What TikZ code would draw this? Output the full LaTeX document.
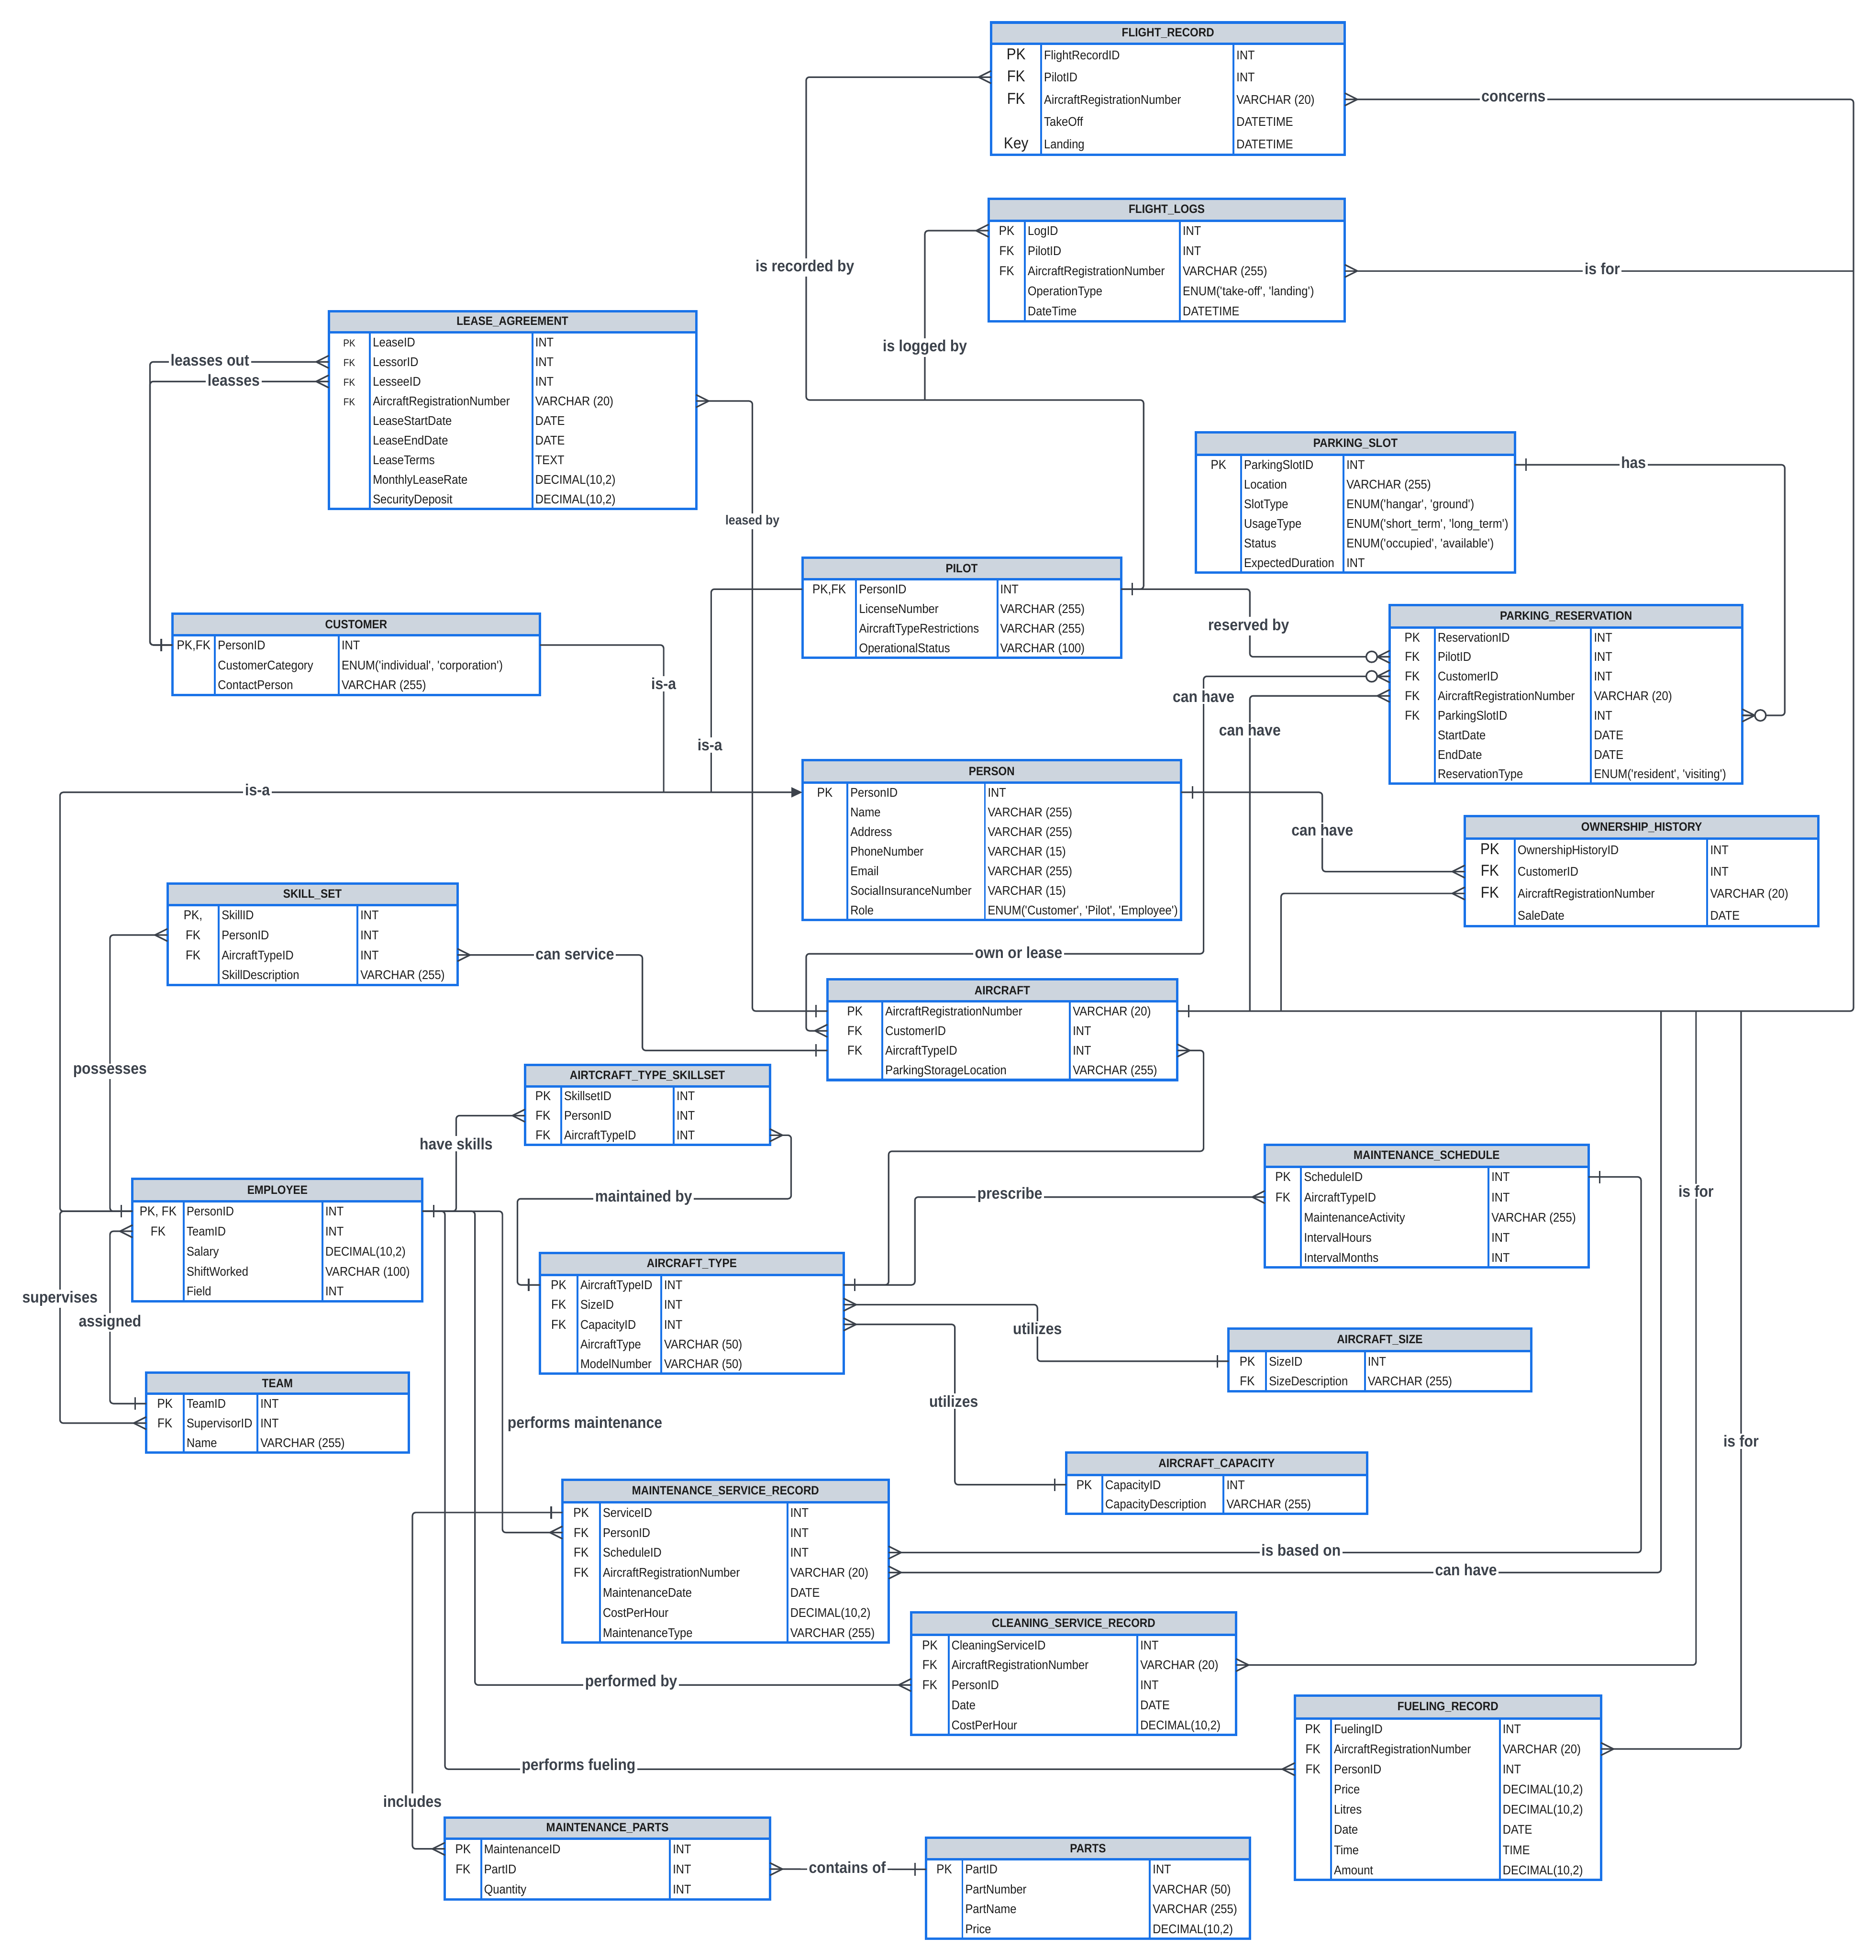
\documentclass[tikz,border=0pt]{standalone}
\usepackage{fontspec}
\setmainfont{Liberation Sans}[FakeStretch=0.9]
\usetikzlibrary{arrows.meta,calc}
\definecolor{bblue}{HTML}{1A73E8}
\definecolor{hgray}{HTML}{CDD5DE}
\definecolor{lcol}{HTML}{3C424B}
\definecolor{tcol}{HTML}{1C1C1C}
\newcommand\sq{\textquotesingle}
\tikzset{
  border/.style={draw=bblue, line width=1.1pt},
  colline/.style={draw=bblue, line width=0.85pt},
  ttl/.style={inner sep=0pt, font=\bfseries\fontsize{5.5}{6}\selectfont, text=tcol},
  rowbox/.style={inner sep=0pt, outer sep=0pt, draw=none},
  keytxt/.style={inner sep=0pt, text=tcol, text height=4.1pt, text depth=0pt},
  rowtxt/.style={anchor=west, inner sep=0pt, text=tcol, font=\fontsize{5.75}{6.5}\selectfont, text height=4.1pt, text depth=0pt},
  conn/.style={draw=lcol, line width=0.7pt, rounded corners=1.5pt},
  mk/.style={draw=lcol, line width=0.7pt},
  lbl/.style={fill=white, inner sep=0.8pt, text=lcol, font=\bfseries\fontsize{7.3}{8}\selectfont},
  crowW/.pic={\draw[mk] (-10,0) -- (0,5) (-10,0) -- (0,-5);},
  crowE/.pic={\draw[mk] (10,0) -- (0,5) (10,0) -- (0,-5);},
  tickW/.pic={\draw[mk] (-9,-5) -- (-9,5);},
  tickE/.pic={\draw[mk] (9,-5) -- (9,5);},
  zcrowW/.pic={\draw[mk] (-10,0) -- (0,5) (-10,0) -- (0,-5) (-10,0) -- (0,0); \draw[mk, fill=white] (-14.5,0) circle[radius=2.5pt];},
  zcrowE/.pic={\draw[mk] (10,0) -- (0,5) (10,0) -- (0,-5) (10,0) -- (0,0); \draw[mk, fill=white] (14.5,0) circle[radius=2.5pt];},
}
% id, title, x0, x1, c1, c2, ytop, yhead, ybot
\newcommand\ertable[9]{%
  \gdef\tid{#1}\gdef\tx{#3}\gdef\txr{#4}\gdef\tca{#5}\gdef\tcb{#6}\gdef\tyh{#8}\gdef\tyb{#9}%
  \fill[white] (#3,#7) rectangle (#4,#9);
  \fill[hgray] (#3,#7) rectangle (#4,#8);
  \node[ttl] (#1) at ({(#3+#4)/2},{(#7+#8)/2}) {#2};
  \draw[colline] (#5,#8) -- (#5,#9) (#6,#8) -- (#6,#9);
  \draw[border] (#3,#7) rectangle (#4,#9) (#3,#8) -- (#4,#8);
}
% n rows, key font, rows
\newcommand\errows[3]{%
  \foreach \ka/\na/\ty [count=\ri] in {#3}{%
    \pgfmathsetmacro\yc{\tyh+(\ri-0.5)*(\tyb-\tyh)/#1}%
    \pgfmathsetmacro\xm{(\tx+\txr)/2}%
    \pgfmathsetmacro\xk{(\tx+\tca)/2}%
    \pgfmathsetmacro\rw{(\txr-\tx)*0.02}%
    \pgfmathsetmacro\rh{(\tyb-\tyh)/#1*0.02}%
    \node[rowbox, minimum width=\rw cm, minimum height=\rh cm] (\tid-\ri) at (\xm,\yc) {};
    \node[keytxt, font=#2] (\tid-\ri-k) at (\xk,\yc) {\ka};
    \node[rowtxt] (\tid-\ri-n) at (\tca+2,\yc) {\na};
    \node[rowtxt] (\tid-\ri-t) at (\tcb+2,\yc) {\ty};
  }%
}
\newcommand\kn{\fontsize{5.9}{6.5}\selectfont}
\newcommand\kb{\fontsize{7.2}{8}\selectfont}
\newcommand\ks{\fontsize{4.6}{5}\selectfont}
\begin{document}
\begin{tikzpicture}[x=0.02cm, y=-0.02cm]
\fill[white] (0,0) rectangle (1501,1568);
\useasboundingbox (0,0) rectangle (1501,1568);

% ---------------- tables ----------------
\ertable{fr}{FLIGHT\_RECORD}{793}{1076}{833}{987}{18}{35}{124}
\errows{5}{\kb}{PK/FlightRecordID/INT, FK/PilotID/INT, FK/AircraftRegistrationNumber/VARCHAR (20), {}/TakeOff/DATETIME, Key/Landing/DATETIME}

\ertable{fl}{FLIGHT\_LOGS}{791}{1076}{820}{944}{159}{176.5}{257}
\errows{5}{\kn}{PK/LogID/INT, FK/PilotID/INT, FK/AircraftRegistrationNumber/VARCHAR (255), {}/OperationType/{ENUM(\sq take-off\sq, \sq landing\sq)}, {}/DateTime/DATETIME}

\ertable{la}{LEASE\_AGREEMENT}{263}{557}{296}{426}{249}{266}{407}
\errows{9}{\ks}{PK/LeaseID/INT, FK/LessorID/INT, FK/LesseeID/INT, FK/AircraftRegistrationNumber/VARCHAR (20), {}/LeaseStartDate/DATE, {}/LeaseEndDate/DATE, {}/LeaseTerms/TEXT, {}/MonthlyLeaseRate/{DECIMAL(10,2)}, {}/SecurityDeposit/{DECIMAL(10,2)}}

\ertable{cu}{CUSTOMER}{138}{432}{172}{271}{491}{508}{556}
\errows{3}{\kn}{{PK,FK}/PersonID/INT, {}/CustomerCategory/{ENUM(\sq individual\sq, \sq corporation\sq)}, {}/ContactPerson/VARCHAR (255)}

\ertable{ps}{PARKING\_SLOT}{957}{1212}{993}{1075}{346}{364}{458}
\errows{6}{\kn}{PK/ParkingSlotID/INT, {}/Location/VARCHAR (255), {}/SlotType/{ENUM(\sq hangar\sq, \sq ground\sq)}, {}/UsageType/{ENUM(\sq short\_term\sq, \sq long\_term\sq)}, {}/Status/{ENUM(\sq occupied\sq, \sq available\sq)}, {}/ExpectedDuration/INT}

\ertable{pi}{PILOT}{642}{897}{685}{798}{446}{463.5}{526}
\errows{4}{\kn}{{PK,FK}/PersonID/INT, {}/LicenseNumber/VARCHAR (255), {}/AircraftTypeRestrictions/VARCHAR (255), {}/OperationalStatus/VARCHAR (100)}

\ertable{pr}{PARKING\_RESERVATION}{1112}{1394}{1148}{1273}{484}{502}{627}
\errows{8}{\kn}{PK/ReservationID/INT, FK/PilotID/INT, FK/CustomerID/INT, FK/AircraftRegistrationNumber/VARCHAR (20), FK/ParkingSlotID/INT, {}/StartDate/DATE, {}/EndDate/DATE, {}/ReservationType/{ENUM(\sq resident\sq, \sq visiting\sq)}}

\ertable{pe}{PERSON}{642}{945}{678}{788}{608}{626}{736}
\errows{7}{\kn}{PK/PersonID/INT, {}/Name/VARCHAR (255), {}/Address/VARCHAR (255), {}/PhoneNumber/VARCHAR (15), {}/Email/VARCHAR (255), {}/SocialInsuranceNumber/VARCHAR (15), {}/Role/{ENUM(\sq Customer\sq, \sq Pilot\sq, \sq Employee\sq)}}

\ertable{oh}{OWNERSHIP\_HISTORY}{1172}{1455}{1212}{1366}{653}{671}{741}
\errows{4}{\kb}{PK/OwnershipHistoryID/INT, FK/CustomerID/INT, FK/AircraftRegistrationNumber/VARCHAR (20), {}/SaleDate/DATE}

\ertable{ac}{AIRCRAFT}{662}{942}{706}{856}{783.5}{801}{864}
\errows{4}{\kn}{PK/AircraftRegistrationNumber/VARCHAR (20), FK/CustomerID/INT, FK/AircraftTypeID/INT, {}/ParkingStorageLocation/VARCHAR (255)}

\ertable{ss}{SKILL\_SET}{134}{366}{175}{286}{707}{724}{788}
\errows{4}{\kn}{{PK,}/SkillID/INT, FK/PersonID/INT, FK/AircraftTypeID/INT, {}/SkillDescription/VARCHAR (255)}

\ertable{ats}{AIRTCRAFT\_TYPE\_SKILLSET}{420}{616}{449}{539}{852}{869}{916}
\errows{3}{\kn}{PK/SkillsetID/INT, FK/PersonID/INT, FK/AircraftTypeID/INT}

\ertable{em}{EMPLOYEE}{106}{338}{147}{258}{943}{961}{1041}
\errows{5}{\kn}{{PK, FK}/PersonID/INT, FK/TeamID/INT, {}/Salary/{DECIMAL(10,2)}, {}/ShiftWorked/VARCHAR (100), {}/Field/INT}

\ertable{tm}{TEAM}{117}{327}{147}{206}{1098}{1115}{1162}
\errows{3}{\kn}{PK/TeamID/INT, FK/SupervisorID/INT, {}/Name/VARCHAR (255)}

\ertable{at}{AIRCRAFT\_TYPE}{432}{675}{462}{529}{1002.5}{1020}{1099}
\errows{5}{\kn}{PK/AircraftTypeID/INT, FK/SizeID/INT, FK/CapacityID/INT, {}/AircraftType/VARCHAR (50), {}/ModelNumber/VARCHAR (50)}

\ertable{ms}{MAINTENANCE\_SCHEDULE}{1012}{1271}{1041}{1191}{916}{933.5}{1014}
\errows{5}{\kn}{PK/ScheduleID/INT, FK/AircraftTypeID/INT, {}/MaintenanceActivity/VARCHAR (255), {}/IntervalHours/INT, {}/IntervalMonths/INT}

\ertable{asz}{AIRCRAFT\_SIZE}{983}{1225}{1013}{1092}{1063}{1081}{1113}
\errows{2}{\kn}{PK/SizeID/INT, FK/SizeDescription/VARCHAR (255)}

\ertable{acp}{AIRCRAFT\_CAPACITY}{853}{1094}{882}{979}{1162}{1180}{1211}
\errows{2}{\kn}{PK/CapacityID/INT, {}/CapacityDescription/VARCHAR (255)}

\ertable{msr}{MAINTENANCE\_SERVICE\_RECORD}{450}{711}{480}{630}{1184}{1202}{1314}
\errows{7}{\kn}{PK/ServiceID/INT, FK/PersonID/INT, FK/ScheduleID/INT, FK/AircraftRegistrationNumber/VARCHAR (20), {}/MaintenanceDate/DATE, {}/CostPerHour/{DECIMAL(10,2)}, {}/MaintenanceType/VARCHAR (255)}

\ertable{csr}{CLEANING\_SERVICE\_RECORD}{729}{989}{759}{910}{1290}{1308}{1388}
\errows{5}{\kn}{PK/CleaningServiceID/INT, FK/AircraftRegistrationNumber/VARCHAR (20), FK/PersonID/INT, {}/Date/DATE, {}/CostPerHour/{DECIMAL(10,2)}}

\ertable{fu}{FUELING\_RECORD}{1036}{1281}{1065}{1200}{1356.5}{1375}{1504}
\errows{8}{\kn}{PK/FuelingID/INT, FK/AircraftRegistrationNumber/VARCHAR (20), FK/PersonID/INT, {}/Price/{DECIMAL(10,2)}, {}/Litres/{DECIMAL(10,2)}, {}/Date/DATE, {}/Time/TIME, {}/Amount/{DECIMAL(10,2)}}

\ertable{mp}{MAINTENANCE\_PARTS}{356}{616}{385}{536}{1454}{1471}{1519.5}
\errows{3}{\kn}{PK/MaintenanceID/INT, FK/PartID/INT, {}/Quantity/INT}

\ertable{pa}{PARTS}{741}{1000}{770}{920}{1470}{1487.5}{1551}
\errows{4}{\kn}{PK/PartID/INT, {}/PartNumber/VARCHAR (50), {}/PartName/VARCHAR (255), {}/Price/{DECIMAL(10,2)}}

% ---------------- bus coordinates ----------------
\coordinate (bR) at (1483,0);
\coordinate (bA) at (531,0);
\coordinate (bB) at (569,0);
\coordinate (b1329) at (1329,0);
\coordinate (b1357) at (1357,0);
\coordinate (b1393) at (1393,0);
\coordinate (b1025) at (1025,0);
\coordinate (b999) at (1000,0);

% ---------------- connectors ----------------
\draw[conn] (pi-1.east) -| (915,400) |- (700,320) -| (645,200) |- (fr-2.west);
\draw[conn] (fl-1.west) -| (740,320);
\draw[conn] (fr-3.east) -| (1483,500) |- (ac-1.east);
\draw[conn] (fl-3.east) -- (fl-3.east -| bR);
\draw[conn] (la-2.west) -| (120,400) |- (cu-1.west);
\draw[conn] (la-3.west) -| (120,400) |- (cu-1.west);
\draw[conn] (la-4.east) -| (602,600) |- (ac-1.west);
\draw[conn] (cu-1.east) -| (pe-1.west -| bA);
\draw[conn] (pi-1.west) -| (pe-1.west -| bB);
\draw[conn, -{Triangle[length=5pt,width=4.5pt]}] (em-1.west) -| (48,800) |- (pe-1.west);
\draw[conn] (em-1.west) -| (48,1050) |- (tm-2.west);
\draw[conn] (ss-2.west) -| (88,850) |- (em-1.west);
\draw[conn] (em-2.west) -| (88,1050) |- (tm-1.west);
\draw[conn] (ss-3.east) -| (514,800) |- (ac-3.west);
\draw[conn] (ats-2.west) -| (365,930) |- (em-1.east);
\draw[conn] (ats-3.east) -| (633,940) |- (500,959) -| (414,1000) |- (at-1.west);
\draw[conn] (ac-3.east) -| (963,880) |- (800,921) -| (711,1000) |- (at-1.east);
\draw[conn] (ms-2.west) -| (732,1000) |- (at-1.east);
\draw[conn] (at-2.east) -| (830,1070) |- (asz-1.west);
\draw[conn] (at-3.east) -| (764,1150) |- (acp-1.west);
\draw[conn] (em-1.east) -| (402,1100) |- (msr-2.west);
\draw[conn] (em-1.east) -| (380,1300) |- (csr-3.west);
\draw[conn] (em-1.east) -| (356,1400) |- (fu-3.west);
\draw[conn] (msr-1.west) -| (330,1400) |- (mp-1.west);
\draw[conn] (mp-2.east) -- (pa-1.west);
\draw[conn] (msr-3.east) -| (1313,1100) |- (ms-1.east);
\draw[conn] (msr-4.east) -| (ac-1.east -| b1329);
\draw[conn] (csr-2.east) -| (ac-1.east -| b1357);
\draw[conn] (fu-2.east) -| (ac-1.east -| b1393);
\draw[conn] (oh-3.west) -| (ac-1.east -| b1025);
\draw[conn] (pr-4.west) -| (ac-1.east -| b999);
\draw[conn] (pe-1.east) -| (1058,660) |- (oh-2.west);
\draw[conn] (pi-1.east) -| (1000,500) |- (pr-2.west);
\draw[conn] (pr-3.west) -| (963,700) |- (800,763) -| (645,800) |- (ac-2.west);
\draw[conn] (ps-1.east) -| (1428,500) |- (pr-5.east);

% ---------------- markers ----------------
\pic at (fr-2.west) {crowW};
\pic at (pi-1.east) {tickE};
\pic at (fl-1.west) {crowW};
\pic at (fr-3.east) {crowE};
\pic at (ac-1.east) {tickE};
\pic at (fl-3.east) {crowE};
\pic at (la-2.west) {crowW};
\pic at (la-3.west) {crowW};
\pic at (cu-1.west) {tickW};
\pic at (la-4.east) {crowE};
\pic at (ac-1.west) {tickW};
\pic at (em-1.west) {tickW};
\pic at (tm-2.west) {crowW};
\pic at (ss-2.west) {crowW};
\pic at (em-2.west) {crowW};
\pic at (tm-1.west) {tickW};
\pic at (ss-3.east) {crowE};
\pic at (ac-3.west) {tickW};
\pic at (ats-2.west) {crowW};
\pic at (em-1.east) {tickE};
\pic at (ats-3.east) {crowE};
\pic at (at-1.west) {tickW};
\pic at (ac-3.east) {crowE};
\pic at (at-1.east) {tickE};
\pic at (ms-2.west) {crowW};
\pic at (at-2.east) {crowE};
\pic at (asz-1.west) {tickW};
\pic at (at-3.east) {crowE};
\pic at (acp-1.west) {tickW};
\pic at (msr-2.west) {crowW};
\pic at (csr-3.west) {crowW};
\pic at (fu-3.west) {crowW};
\pic at (msr-1.west) {tickW};
\pic at (mp-1.west) {crowW};
\pic at (mp-2.east) {crowE};
\pic at (pa-1.west) {tickW};
\pic at (msr-3.east) {crowE};
\pic at (ms-1.east) {tickE};
\pic at (msr-4.east) {crowE};
\pic at (csr-2.east) {crowE};
\pic at (fu-2.east) {crowE};
\pic at (oh-3.west) {crowW};
\pic at (pr-4.west) {crowW};
\pic at (pe-1.east) {tickE};
\pic at (oh-2.west) {crowW};
\pic at (pr-2.west) {zcrowW};
\pic at (pr-3.west) {zcrowW};
\pic at (ac-2.west) {crowW};
\pic at (ps-1.east) {tickE};
\pic at (pr-5.east) {zcrowE};

% ---------------- labels ----------------
\node[lbl] (l1) at (644,214) {is recorded by};
\node[lbl] (l2) at (740,278) {is logged by};
\node[lbl] (l3) at (1211,78) {concerns};
\node[lbl] (l4) at (1282,215) {is for};
\node[lbl] (l5) at (168,288) {leasses out};
\node[lbl] (l6) at (187,304) {leasses};
\node[lbl, font=\bfseries\fontsize{6}{6.5}\selectfont] (l7) at (602,417) {leased by};
\node[lbl] (l8) at (531,547) {is-a};
\node[lbl] (l9) at (568,596) {is-a};
\node[lbl] (l10) at (206,632) {is-a};
\node[lbl] (l11) at (999,501) {reserved by};
\node[lbl] (l12) at (1307,370) {has};
\node[lbl] (l13) at (963,557) {can have};
\node[lbl] (l14) at (1000,584) {can have};
\node[lbl] (l15) at (1058,664) {can have};
\node[lbl] (l16) at (815,762) {own or lease};
\node[lbl] (l17) at (460,763) {can service};
\node[lbl] (l18) at (88,857) {possesses};
\node[lbl] (l19) at (365,915) {have skills};
\node[lbl] (l20) at (515,958) {maintained by};
\node[lbl] (l21) at (808,956) {prescribe};
\node[lbl] (l22) at (48,1039) {supervises};
\node[lbl] (l23) at (88,1058) {assigned};
\node[lbl] (l24) at (830,1063) {utilizes};
\node[lbl] (l25) at (763,1121) {utilizes};
\node[lbl] (l26) at (1357,953) {is for};
\node[lbl] (l27) at (1393,1153) {is for};
\node[lbl] (l28) at (468,1139) {performs maintenance};
\node[lbl] (l29) at (1041,1240) {is based on};
\node[lbl] (l30) at (1173,1256) {can have};
\node[lbl] (l31) at (505,1346) {performed by};
\node[lbl] (l32) at (463,1413) {performs fueling};
\node[lbl] (l33) at (330,1441) {includes};
\node[lbl] (l34) at (678,1494) {contains of};
\end{tikzpicture}
\end{document}
